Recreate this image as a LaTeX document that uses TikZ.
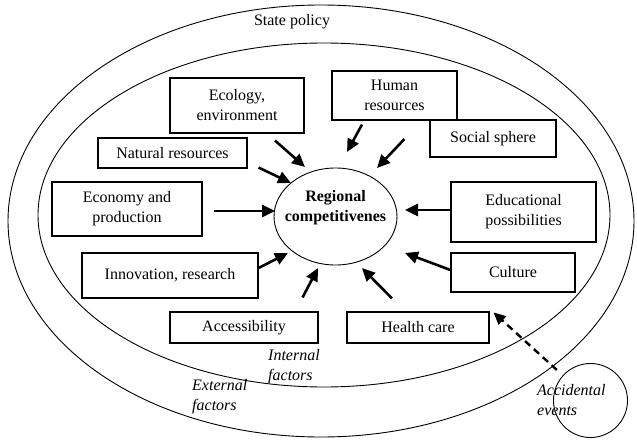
\documentclass[tikz,border=0pt]{standalone}
\usepackage{fontspec}
\setmainfont{Liberation Serif}
\usetikzlibrary{arrows.meta,shapes.geometric}

\tikzset{
    factor/.style={draw, line width=1.1pt, rectangle, inner sep=0pt, align=center,
        font=\fontsize{16}{20}\selectfont},
    lbl/.style={inner sep=0pt, align=left, font=\fontsize{16}{20}\selectfont\itshape},
    push/.style={line width=2.6pt, -{Triangle[length=13pt,width=12pt]}},
    chance/.style={line width=2.4pt, dash pattern=on 7pt off 5pt, -{Triangle[length=12pt,width=11pt]}}
}

\begin{document}
\begin{tikzpicture}[x=1pt, y=-1pt]
    \useasboundingbox (0, 0) rectangle (637, 441);

    \draw[line width=0.9pt] (321, 221) ellipse (313 and 216);
    \draw[line width=0.9pt] (324, 215) ellipse (286 and 172);
    \node[inner sep=0pt, font=\fontsize{16}{20}\selectfont] (state) at (292, 22) {State policy};

    \node[draw, line width=0.9pt, ellipse, inner sep=0pt, minimum width=123pt, minimum height=97pt,
        label={[yshift=9pt, inner sep=0pt, align=center, font=\fontsize{16}{20}\selectfont\bfseries]center:Regional\\competitivenes}]
        (core) at (335.5, 216.5) {};

    \node[factor, minimum width=134pt, minimum height=55pt] (eco) at (237, 105.5) {Ecology,\\environment};
    \node[factor, minimum width=149pt, minimum height=30pt] (nat) at (172.5, 153) {Natural resources};
    \node[factor, minimum width=150pt, minimum height=54pt] (econ) at (127, 209) {Economy and\\production};
    \node[factor, minimum width=176pt, minimum height=45pt] (innov) at (170, 275.5) {Innovation, research};
    \node[factor, minimum width=148pt, minimum height=31pt] (access) at (244, 327.5) {Accessibility};
    \node[factor, minimum width=142pt, minimum height=31pt] (health) at (418, 327.5) {Health care};
    \node[factor, minimum width=124pt, minimum height=39pt] (cult) at (513, 272.5) {Culture};
    \node[factor, minimum width=145pt, minimum height=60pt] (edu) at (523.5, 212) {Educational\\possibilities};
    \node[factor, minimum width=126pt, minimum height=37pt] (social) at (493, 138.5) {Social sphere};
    \node[factor, minimum width=125pt, minimum height=49pt] (human) at (394.5, 95.5) {Human\\resources};

    \draw[push] ([shift={(38, 7)}]eco.south) -- ([shift={(-30.5, -49.5)}]core.center);
    \draw[push] ([shift={(11, -1)}]nat.south east) -- ([shift={(-44.5, -33.5)}]core.center);
    \draw[push] ([shift={(11, 2)}]econ.east) -- ([shift={(-60.5, -5.5)}]core.center);
    \draw[push] ([shift={(0, -7.5)}]innov.east) -- ([shift={(-47.5, 36.5)}]core.center);
    \draw[push] ([shift={(-16, -14)}]access.north east) -- ([shift={(-17.5, 51.5)}]core.center);
    \draw[push] ([shift={(-26, -13)}]health.north) -- ([shift={(26.5, 51.5)}]core.center);
    \draw[push] ([shift={(0, -2.5)}]cult.west) -- ([shift={(69.5, 36.5)}]core.center);
    \draw[push] ([shift={(0, -2)}]edu.west) -- ([shift={(69.5, -6.5)}]core.center);
    \draw[push] ([shift={(-25, 0.5)}]social.west) -- ([shift={(41.5, -48.5)}]core.center);
    \draw[push] ([shift={(-32.5, 4)}]human.south) -- ([shift={(11.5, -64.5)}]core.center);

    \node[lbl, anchor=west] (internal) at (268, 367) {Internal\\factors};
    \node[lbl, anchor=west] (external) at (192, 397) {External\\factors};

    \node[draw, line width=0.9pt, circle, inner sep=0pt, minimum size=74pt] (acc) at (590.5, 400.5) {};
    \node[lbl, anchor=west] (acctext) at (537, 400) {Accidental\\events};
    \draw[chance, shorten <=8pt] (acc) -- ([shift={(4, 1)}]health.north east);
\end{tikzpicture}
\end{document}
